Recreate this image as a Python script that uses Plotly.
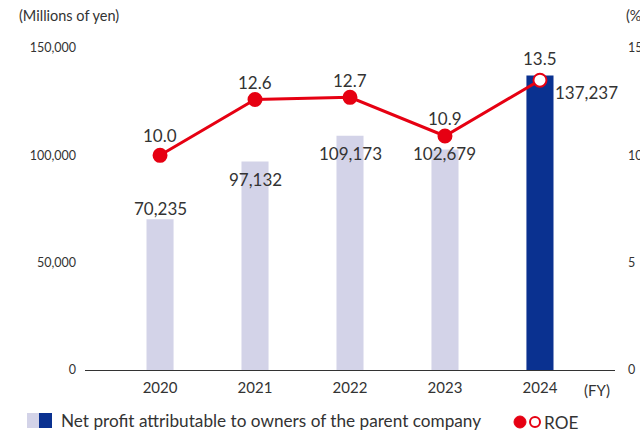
import plotly.graph_objects as go

years = ["2020", "2021", "2022", "2023", "2024"]
net_profit = [70235, 97132, 109173, 102679, 137237]
roe = [10.0, 12.6, 12.7, 10.9, 13.5]
left_ticks = [0, 50000, 100000, 150000]
left_tick_text = ["0", "50,000", "100,000", "150,000"]
right_ticks = [0, 5, 10, 15]

light = "#d3d3e8"
navy = "#0a3190"
red = "#e60012"
txt = "#333333"
font = "Lato"

W, H = 640, 435
L, R, T, B = 85, 25, 48, 65
PW, PH = W - L - R, H - T - B


def px(x, y):
    """pixel position -> paper (plot-area) fraction"""
    return (x - L) / PW, (H - B - y) / PH


bar_colors = [light] * (len(years) - 1) + [navy]
marker_fill = [red] * (len(years) - 1) + ["white"]

fig = go.Figure()
fig.add_trace(go.Bar(x=years, y=net_profit, marker=dict(color=bar_colors, line=dict(width=0)),
                     width=0.285, yaxis="y", hoverinfo="skip"))
fig.add_trace(go.Scatter(x=years, y=roe, yaxis="y2", mode="lines+markers",
                         line=dict(color=red, width=3),
                         marker=dict(size=13, color=marker_fill, line=dict(color=red, width=2)),
                         hoverinfo="skip"))

# bar value labels (offsets in px)
bar_label_shift = [(0, 11), (0, -18), (0, -18), (0, -4), (47, -17)]
for i, (v, (dx, dy)) in enumerate(zip(net_profit, bar_label_shift)):
    fig.add_annotation(x=i, y=v, xref="x", yref="y", text=f"{v:,}", showarrow=False,
                       xshift=dx, yshift=dy, font=dict(family=font, size=17, color=txt))
roe_shift = [20, 17, 17, 18, 22]
for i, (v, dy) in enumerate(zip(roe, roe_shift)):
    fig.add_annotation(x=i, y=v, xref="x", yref="y2", text=f"{v:.1f}", showarrow=False,
                       yshift=dy, font=dict(family=font, size=17, color=txt))

# axis unit labels
x, y = px(17, 15)
fig.add_annotation(x=x, y=y, xref="paper", yref="paper", xanchor="left", yanchor="middle",
                   text="(Millions of yen)", showarrow=False, font=dict(family=font, size=14.5, color=txt))
x, y = px(624, 15)
fig.add_annotation(x=x, y=y, xref="paper", yref="paper", xanchor="left", yanchor="middle",
                   text="(%)", showarrow=False, font=dict(family=font, size=14.5, color=txt))
x, y = px(582, 390)
fig.add_annotation(x=x, y=y, xref="paper", yref="paper", xanchor="left", yanchor="middle",
                   text="(FY)", showarrow=False, font=dict(family=font, size=15, color=txt))

# custom legend
x0, y0 = px(27, 413); x1, y1 = px(39, 428)
fig.add_shape(type="rect", xref="paper", yref="paper", x0=x0, y0=y0, x1=x1, y1=y1,
              fillcolor=light, line=dict(width=0))
x0, y0 = px(39, 413); x1, y1 = px(52, 428)
fig.add_shape(type="rect", xref="paper", yref="paper", x0=x0, y0=y0, x1=x1, y1=y1,
              fillcolor=navy, line=dict(width=0))
lx, ly = px(59, 421)
fig.add_annotation(x=lx, y=ly, xref="paper", yref="paper", xanchor="left", yanchor="middle",
                   text="Net profit attributable to owners of the parent company", showarrow=False,
                   font=dict(family=font, size=17.2, color=txt))
x0, y0 = px(514, 416); x1, y1 = px(526, 428)
fig.add_shape(type="circle", xref="paper", yref="paper", x0=x0, y0=y0, x1=x1, y1=y1,
              fillcolor=red, line=dict(color=red, width=1))
x0, y0 = px(530, 417); x1, y1 = px(540, 427)
fig.add_shape(type="circle", xref="paper", yref="paper", x0=x0, y0=y0, x1=x1, y1=y1,
              fillcolor="white", line=dict(color=red, width=2))
lx, ly = px(542, 422)
fig.add_annotation(x=lx, y=ly, xref="paper", yref="paper", xanchor="left", yanchor="middle",
                   text="ROE", showarrow=False, font=dict(family=font, size=17.2, color=txt))

fig.update_layout(
    width=W, height=H,
    margin=dict(l=L, r=R, t=T, b=B, autoexpand=False),
    paper_bgcolor="white", plot_bgcolor="white",
    showlegend=False,
    xaxis=dict(type="category", range=[-0.79, 4.79], showgrid=False, showline=True,
               linecolor="#333333", linewidth=1, ticklabelstandoff=4, automargin=False,
               ticks="", tickfont=dict(family=font, size=15, color=txt), zeroline=False),
    yaxis=dict(range=[0, 150000], tickvals=left_ticks, ticktext=left_tick_text, showgrid=False,
               zeroline=False, showline=False, ticks="", ticklabelstandoff=8, automargin=False,
               tickfont=dict(family=font, size=12.5, color=txt)),
    yaxis2=dict(range=[0, 15], tickvals=right_ticks, overlaying="y", side="right", showgrid=False,
                zeroline=False, showline=False, ticks="", ticklabelstandoff=12, automargin=False,
                tickfont=dict(family=font, size=12.5, color=txt)),
)

fig.write_html("out.html", config={"displayModeBar": False},
               post_script="document.body.style.margin='0';")
